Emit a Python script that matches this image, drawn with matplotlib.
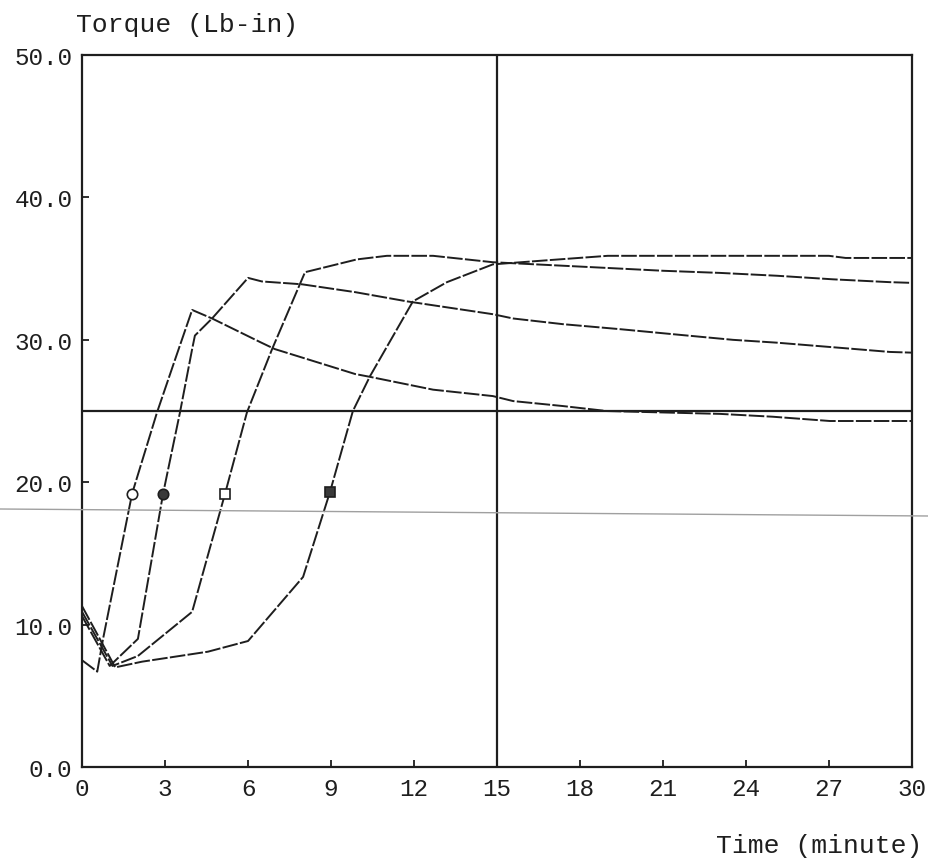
import matplotlib
matplotlib.use("Agg")
import matplotlib.pyplot as plt
from matplotlib.lines import Line2D

plt.rcParams['font.family'] = ['Liberation Mono', 'DejaVu Sans Mono']

# cure curves, torque vs time; mark_idx gives the vertex that carries the symbol
c1_t = [0, 0.55, 0.76, 1.81, 2.71, 3.36, 3.98, 4.70, 6.43, 6.97, 9.87, 10.41,
        12.69, 14.85, 15.58, 17.38, 18.97, 23.06, 24.97, 27.03, 30]
c1_q = [7.5, 6.7, 9.0, 19.2, 24.9, 28.6, 32.1, 31.5, 29.85, 29.35, 27.6, 27.4,
        26.5, 26.05, 25.7, 25.35, 25.0, 24.8, 24.6, 24.3, 24.3]

c2_t = [0, 1.0, 2.02, 2.93, 3.54, 3.98, 4.08, 4.70, 6.0, 6.5, 7.95, 9.87,
        11.75, 14.85, 15.58, 17.38, 19.44, 21.61, 23.53, 25.12, 27.65, 29.2, 30]
c2_q = [10.6, 7.1, 9.0, 19.2, 24.9, 29.35, 30.3, 31.5, 34.35, 34.1, 33.9, 33.35,
        32.7, 31.8, 31.5, 31.1, 30.75, 30.35, 30.0, 29.8, 29.4, 29.15, 29.1]

c3_t = [0, 1.1, 2.02, 3.98, 5.17, 5.96, 6.87, 8.06, 9.94, 11.02, 12.69, 14.85,
        16.91, 18.97, 21.0, 23.06, 25.12, 27.14, 29.2, 30]
c3_q = [10.9, 7.1, 7.8, 10.9, 19.2, 24.9, 29.35, 34.75, 35.65, 35.9, 35.9, 35.45,
        35.25, 35.05, 34.85, 34.7, 34.5, 34.25, 34.05, 34.0]

c4_t = [0, 1.2, 2.17, 4.55, 6.0, 7.99, 8.96, 9.79, 10.41, 11.96, 13.19, 14.85,
        16.9, 19.0, 27.0, 27.6, 30]
c4_q = [11.3, 7.0, 7.4, 8.1, 8.85, 13.35, 19.3, 25.0, 27.45, 32.7, 34.05, 35.3,
        35.6, 35.9, 35.9, 35.75, 35.75]

mark_idx = [3, 3, 4, 6]
mark_sym = ['o', 'o', 's', 's']
mark_fill = ['white', '#3a3a3a', 'white', '#3a3a3a']

x_ticks = [0, 3, 6, 9, 12, 15, 18, 21, 24, 27, 30]
y_ticks = [0, 10, 20, 30, 40, 50]

ink = '#1e1e1e'

fig = plt.figure(figsize=(9.29, 8.62), dpi=100)
ax = fig.add_axes([0.0883, 0.1090, 0.8934, 0.8260])

curves = [(c1_t, c1_q), (c2_t, c2_q), (c3_t, c3_q), (c4_t, c4_q)]
for (t, q), i, m, fc in zip(curves, mark_idx, mark_sym, mark_fill):
    ax.plot(t, q, color=ink, lw=1.4, ls=(0, (8, 1.2)),
            marker=m, markevery=[i], ms=7.5, mfc=fc, mec=ink, mew=1.2)

# reference lines
ax.axhline(25, color=ink, lw=1.6)
ax.axvline(15, color=ink, lw=1.6)

ax.set_xlim(0, 30)
ax.set_ylim(0, 50)
ax.set_xticks(x_ticks)
ax.set_yticks(y_ticks)
ax.set_xticklabels([str(v) for v in x_ticks])
ax.set_yticklabels(['%.1f' % v for v in y_ticks])
ax.tick_params(direction='in', length=5, width=1.3, color=ink, labelsize=17.5,
               labelcolor=ink, pad=7)
for s in ax.spines.values():
    s.set_linewidth(1.6)
    s.set_color(ink)

fig.text(76 / 929, 1 - 25 / 862, 'Torque (Lb-in)', fontsize=19, color=ink,
         ha='left', va='center')
fig.text(922 / 929, 1 - 846 / 862, 'Time (minute)', fontsize=19, color=ink,
         ha='right', va='center')

# faint scanner streak across the page
fig.add_artist(Line2D([0, 1], [1 - 510 / 862, 1 - 517 / 862], color='#a0a0a0',
                      lw=1.0, transform=fig.transFigure))

fig.savefig('out.png', dpi=100)
